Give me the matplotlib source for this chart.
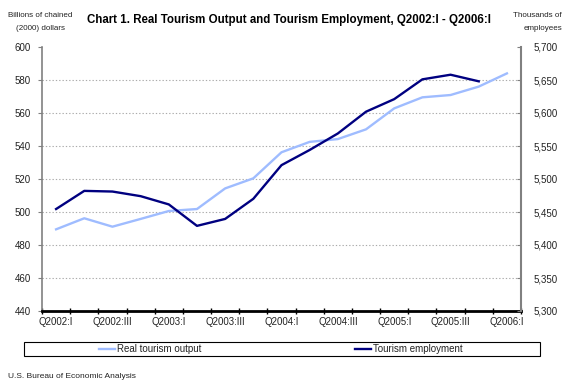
import numpy as np
import matplotlib
matplotlib.use("Agg")
import matplotlib.pyplot as plt
from matplotlib.lines import Line2D
from matplotlib.patches import Rectangle
from matplotlib.ticker import FuncFormatter

# ---- data -------------------------------------------------------------
quarters = ["Q2002:I", "Q2002:II", "Q2002:III", "Q2002:IV",
            "Q2003:I", "Q2003:II", "Q2003:III", "Q2003:IV",
            "Q2004:I", "Q2004:II", "Q2004:III", "Q2004:IV",
            "Q2005:I", "Q2005:II", "Q2005:III", "Q2005:IV",
            "Q2006:I"]
tick_labels = ["Q2002:I", "Q2002:III", "Q2003:I", "Q2003:III", "Q2004:I",
               "Q2004:III", "Q2005:I", "Q2005:III", "Q2006:I"]
# Real tourism output, billions of chained (2000) dollars
real_output = [489.5, 496.2, 491.1, 495.8, 500.6, 501.8, 514.3, 520.4,
               536.2, 542.5, 544.2, 550.1, 562.8, 569.5, 570.9, 576.0,
               584.0]
# Tourism employment, thousands of employees
employment = [5454.5, 5482, 5481, 5474, 5461.5, 5429, 5439.5, 5470,
              5521, 5544, 5569, 5602, 5621, 5651, 5658, 5648]

left_ticks = [440, 460, 480, 500, 520, 540, 560, 580, 600]
right_ticks = [5300, 5350, 5400, 5450, 5500, 5550, 5600, 5650, 5700]

title = "Chart 1. Real Tourism Output and Tourism Employment, Q2002:I - Q2006:I"
series_names = ["Real tourism output", "Tourism employment"]

# ---- style ------------------------------------------------------------
plt.rcParams['font.family'] = ['Liberation Sans', 'DejaVu Sans']
light = '#9fbcff'
dark = '#000080'
txt = '#222222'
W, H = 575, 392

fig = plt.figure(figsize=(W / 100, H / 100), dpi=100)
ax = fig.add_axes([42 / W, 1 - 311 / H, 479 / W, 264 / H])

x_out = np.arange(len(real_output))
x_emp = np.arange(len(employment))
ax.plot(x_out, real_output, color=light, lw=1.7, zorder=3)
ax.set_xlim(-0.5, len(quarters) - 0.5)
ax.set_ylim(left_ticks[0], left_ticks[-1])
ax.set_yticks(left_ticks)
ax.grid(axis='y', linestyle=(0, (1.2, 1.8)), color='#ababab', lw=0.8)
ax.set_axisbelow(True)
for gl, v in zip(ax.yaxis.get_gridlines(), left_ticks):
    if v in (left_ticks[0], left_ticks[-1]):
        gl.set_visible(False)

ax.set_xticks([quarters.index(t) for t in tick_labels])
ax.set_xticklabels(tick_labels)
ax.set_xticks(np.arange(-0.5, len(quarters), 1.0), minor=True)
ax.tick_params(axis='x', which='major', length=0, pad=4, labelsize=7, labelcolor=txt)
ax.tick_params(axis='x', which='minor', length=4, width=1, direction='inout', color='black')
ax.tick_params(axis='y', which='major', length=3, width=0.8, color='#808080',
               direction='out', pad=5, labelsize=7, labelcolor=txt)

ax.spines['top'].set_visible(False)
ax.spines['left'].set_color('#808080')
ax.spines['left'].set_linewidth(1.2)
ax.spines['right'].set_visible(False)
ax.spines['bottom'].set_color('black')
ax.spines['bottom'].set_linewidth(2)
ax.spines['bottom'].set_zorder(5)

ax2 = ax.twinx()
ax2.plot(x_emp, employment, color=dark, lw=1.7, zorder=4)
ax2.set_ylim(right_ticks[0], right_ticks[-1])
ax2.set_yticks(right_ticks)
ax2.yaxis.set_major_formatter(FuncFormatter(lambda v, p: f"{int(v):,}"))
ax2.tick_params(axis='y', length=3, width=0.8, color='#808080', direction='in',
                pad=9, labelsize=7, labelcolor=txt)
for s in ('top', 'bottom', 'left'):
    ax2.spines[s].set_visible(False)
ax2.spines['right'].set_color('#808080')
ax2.spines['right'].set_linewidth(1.5)

# ---- texts ------------------------------------------------------------
fig.text(289 / W, 1 - 20 / H, title, ha='center', va='center',
         fontsize=8.3, weight='bold', color='black')
fig.text(40 / W, 1 - 15.5 / H, "Billions of chained", ha='center', va='center',
         fontsize=5.8, color=txt)
fig.text(40 / W, 1 - 28 / H, "(2000) dollars", ha='center', va='center',
         fontsize=5.8, color=txt)
fig.text(562 / W, 1 - 15.5 / H, "Thousands of", ha='right', va='center',
         fontsize=5.8, color=txt)
fig.text(562 / W, 1 - 28 / H, "employees", ha='right', va='center',
         fontsize=5.8, color=txt)
fig.text(8 / W, 1 - 377 / H, "U.S. Bureau of Economic Analysis", ha='left',
         va='center', fontsize=6, color=txt)

# ---- legend -----------------------------------------------------------
fig.add_artist(Rectangle((24 / W, 1 - 356 / H), 516 / W, 14 / H,
                         transform=fig.transFigure, facecolor='white',
                         edgecolor='black', lw=0.8))
ly = 1 - 349 / H
for (hx0, hx1, tx), name, col in zip([(99, 115, 117), (355, 371, 373)],
                                     series_names, [light, dark]):
    fig.add_artist(Line2D([hx0 / W, hx1 / W], [ly, ly], transform=fig.transFigure,
                          color=col, lw=1.7))
    fig.text(tx / W, ly, name, ha='left', va='center', fontsize=7, color=txt)

fig.savefig("out.png", dpi=100)
